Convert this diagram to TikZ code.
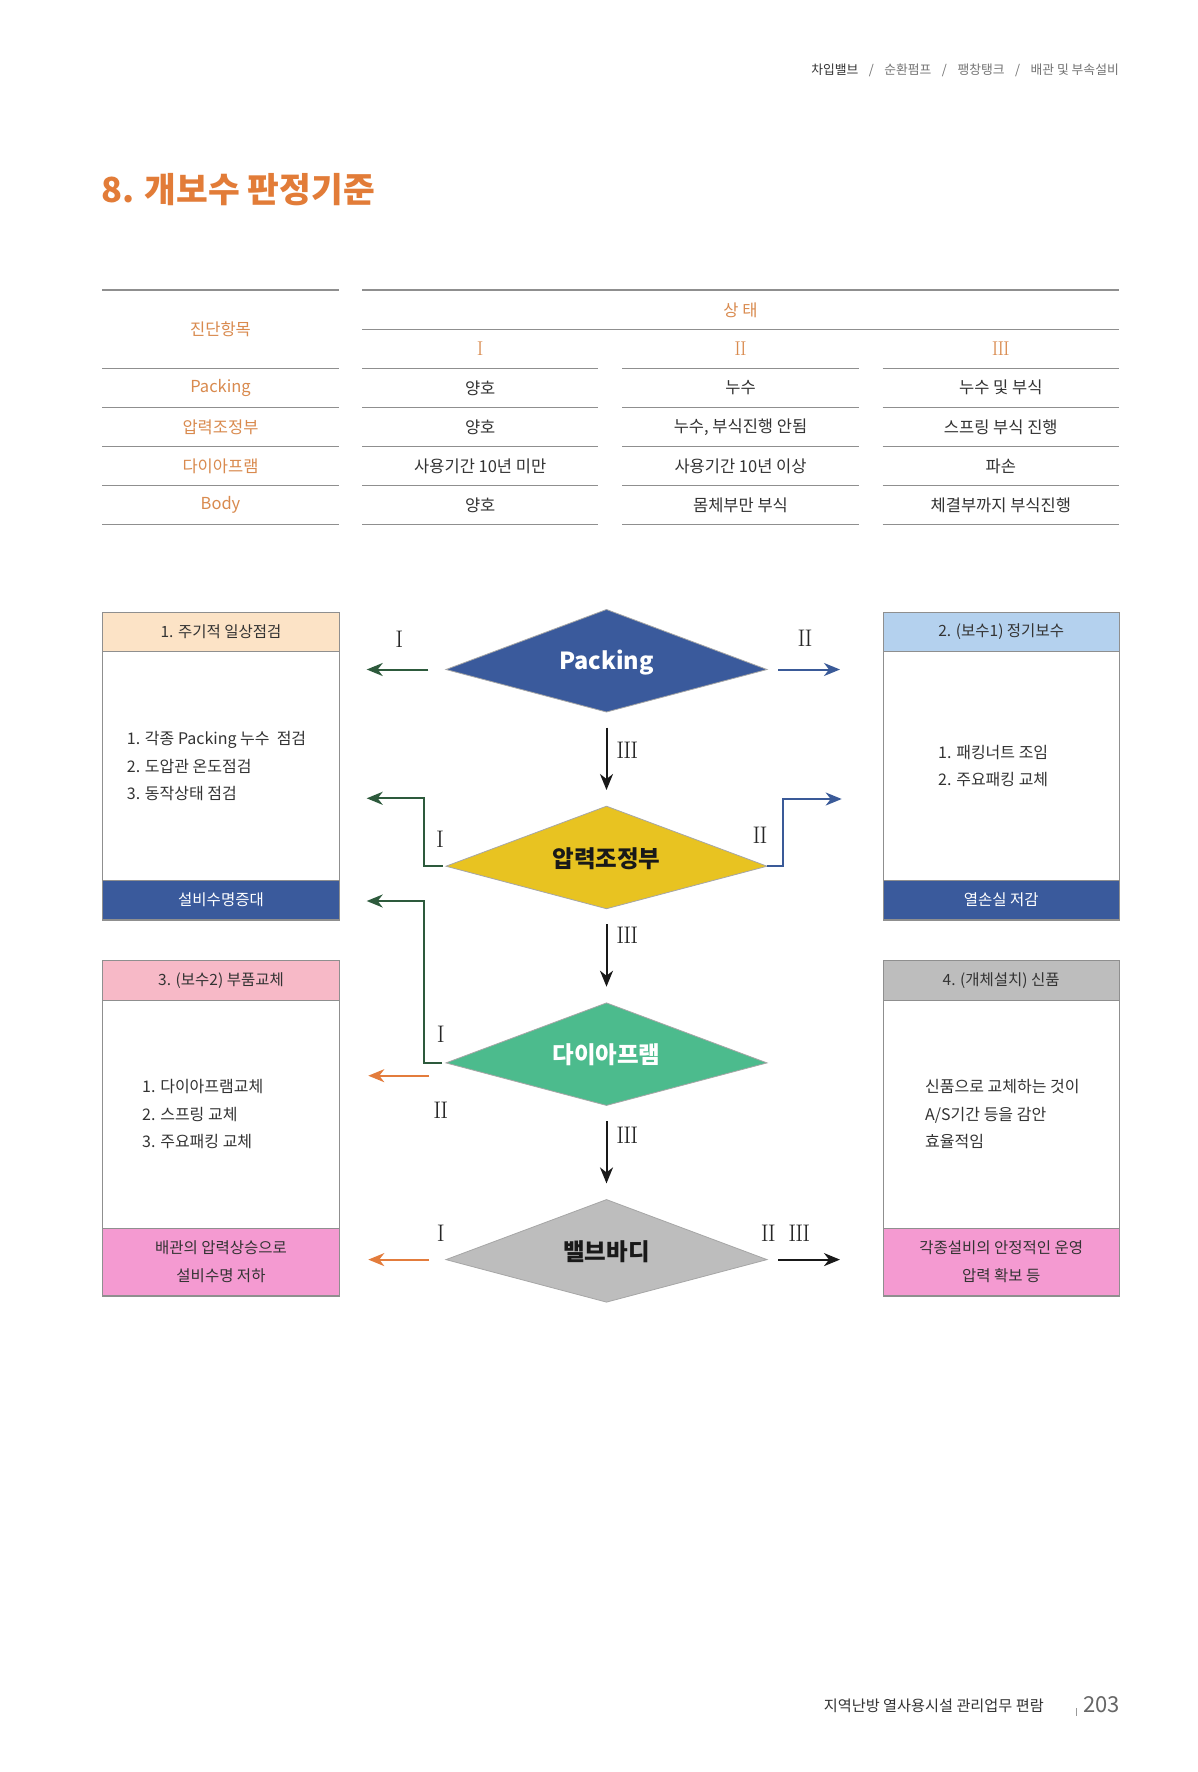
\documentclass[tikz,border=0pt]{standalone}
\usepackage{fontspec}
\usetikzlibrary{arrows.meta}
\newfontfamily\kr{Noto Sans CJK KR}
\definecolor{ttl}{HTML}{E27C38}
\definecolor{org}{HTML}{D98A4E}
\definecolor{txt}{HTML}{333333}
\definecolor{rulec}{HTML}{8F8F8F}
\definecolor{peach}{HTML}{FCE3C6}
\definecolor{lblue}{HTML}{B4D1EE}
\definecolor{dblue}{HTML}{3A5A9C}
\definecolor{lpink}{HTML}{F7B9C7}
\definecolor{mpink}{HTML}{F49AD1}
\definecolor{lgray}{HTML}{BDBDBD}
\definecolor{dyellow}{HTML}{E8C321}
\definecolor{dgreen}{HTML}{4CBB8D}
\definecolor{agreen}{HTML}{2D5A3C}
\definecolor{ablue}{HTML}{3A5A98}
\definecolor{aorange}{HTML}{E37C3C}
\newcommand\RnOne{I}
\newcommand\RnTwo{I\kern-0.9pt I}
\newcommand\RnThree{I\kern-0.9pt I\kern-0.9pt I}
\tikzset{
  tbl/.style={font=\kr\fontsize{16.5}{19}\selectfont, text=txt, inner sep=0pt},
  lab/.style={font=\kr\fontsize{16.5}{19}\selectfont, text=org, inner sep=0pt},
  rn/.style={font=\fontsize{24}{24}\selectfont, text=black!85, inner sep=0pt},
  rnt/.style={font=\fontsize{20}{20}\selectfont, text=org, inner sep=0pt},
  hdr/.style={font=\kr\fontsize{15.5}{28}\selectfont, text=txt, inner sep=0pt, align=center},
  lst/.style={font=\kr\fontsize{16}{27.5}\selectfont, text=txt, align=left, anchor=west, inner sep=0pt},
  dtext/.style={font=\kr\bfseries\fontsize{23.5}{26}\selectfont, inner sep=0pt},
  boxline/.style={draw=rulec, line width=0.9pt, inner sep=0pt, minimum width=236.5pt},
  dshape/.style={draw=black!35, line width=0.8pt},
  trule/.style={draw=rulec, line width=1.3pt},
  arr/.style={line width=2pt, -{Stealth[length=16pt,width=13pt,inset=5pt]}},
  seg/.style={line width=2pt}
}
\begin{document}
\begin{tikzpicture}[x=1pt,y=-1pt]
\useasboundingbox[fill=white] (0,0) rectangle (1197,1772);

% header and title
\node[anchor=east, font=\kr\fontsize{12.8}{14}\selectfont, text=black!55, inner sep=0pt] (bc) at (1119,70.7)
  {\textcolor{txt}{차입밸브}\hspace{10.5pt}/\hspace{10.5pt}순환펌프\hspace{10.5pt}/\hspace{10.5pt}팽창탱크\hspace{10.5pt}/\hspace{10.5pt}배관 및 부속설비};
\node[anchor=west, font=\kr\bfseries\fontsize{34.5}{40}\selectfont, text=ttl, inner sep=0pt] (title) at (101,190) {8. 개보수 판정기준};

% table rules
\foreach \y in {290,368.3,407.3,446.7,485.7,524.7} \draw[trule] (102.3,\y) -- (338.7,\y);
\draw[trule] (362,290) -- (1119,290);
\draw[trule] (362,329.3) -- (1119,329.3);
\foreach \y in {368.3,407.3,446.7,485.7,524.7} {
  \draw[trule] (362,\y) -- (598.3,\y);
  \draw[trule] (622.3,\y) -- (858.7,\y);
  \draw[trule] (882.7,\y) -- (1119,\y);
}
% table text
\node[lab] (th0) at (220.5,329) {진단항목};
\node[lab] (th1) at (740.5,310) {상 태};
\node[rnt] (tn1) at (480.2,349) {\RnOne};
\node[rnt] (tn2) at (740.5,349) {\RnTwo};
\node[rnt] (tn3) at (1000.8,349) {\RnThree};
\node[lab] (r1) at (220.5,387.8) {Packing};
\node[lab] (r2) at (220.5,427) {압력조정부};
\node[lab] (r3) at (220.5,466.2) {다이아프램};
\node[lab] (r4) at (220.5,505.2) {Body};
\node[tbl] (c11) at (480.2,387.8) {양호};
\node[tbl] (c12) at (740.5,387.8) {누수};
\node[tbl] (c13) at (1000.8,387.8) {누수 및 부식};
\node[tbl] (c21) at (480.2,427) {양호};
\node[tbl] (c22) at (740.5,427) {누수, 부식진행 안됨};
\node[tbl] (c23) at (1000.8,427) {스프링 부식 진행};
\node[tbl] (c31) at (480.2,466.2) {사용기간 10년 미만};
\node[tbl] (c32) at (740.5,466.2) {사용기간 10년 이상};
\node[tbl] (c33) at (1000.8,466.2) {파손};
\node[tbl] (c41) at (480.2,505.2) {양호};
\node[tbl] (c42) at (740.5,505.2) {몸체부만 부식};
\node[tbl] (c43) at (1000.8,505.2) {체결부까지 부식진행};

% boxes
\node[boxline, minimum height=308.3pt, anchor=north west] (b1) at (102.3,611.7) {};
\node[boxline, fill=peach, minimum height=39.6pt, anchor=north west, hdr] (b1h) at (102.3,611.7) {1. 주기적 일상점검};
\node[boxline, fill=dblue, minimum height=39.3pt, anchor=south west, hdr, text=white] (b1f) at (102.3,920) {설비수명증대};
\node[lst] (b1t) at (126.7,766) {1. 각종 Packing 누수\ \ 점검\\2. 도압관 온도점검\\3. 동작상태 점검};

\node[boxline, minimum height=308.3pt, anchor=north west] (b2) at (882.5,611.7) {};
\node[boxline, fill=lblue, minimum height=39.6pt, anchor=north west, hdr] (b2h) at (882.5,611.7) {2. (보수1) 정기보수};
\node[boxline, fill=dblue, minimum height=39.3pt, anchor=south west, hdr, text=white] (b2f) at (882.5,920) {열손실 저감};
\node[lst] (b2t) at (938,766) {1. 패킹너트 조임\\2. 주요패킹 교체};

\node[boxline, minimum height=336pt, anchor=north west] (b3) at (102.3,960) {};
\node[boxline, fill=lpink, minimum height=39.6pt, anchor=north west, hdr] (b3h) at (102.3,960) {3. (보수2) 부품교체};
\node[boxline, fill=mpink, minimum height=67pt, anchor=south west, hdr] (b3f) at (102.3,1296) {배관의 압력상승으로\\설비수명 저하};
\node[lst] (b3t) at (142,1114) {1. 다이아프램교체\\2. 스프링 교체\\3. 주요패킹 교체};

\node[boxline, minimum height=336pt, anchor=north west] (b4) at (882.5,960) {};
\node[boxline, fill=lgray, minimum height=39.6pt, anchor=north west, hdr] (b4h) at (882.5,960) {4. (개체설치) 신품};
\node[boxline, fill=mpink, minimum height=67pt, anchor=south west, hdr] (b4f) at (882.5,1296) {각종설비의 안정적인 운영\\압력 확보 등};
\node[lst] (b4t) at (925,1114) {신품으로 교체하는 것이\\A/S기간 등을 감안\\효율적임};

% diamonds
\coordinate (pkN) at (606.5,609.5); \coordinate (pkE) at (767,669.5); \coordinate (pkS) at (606.5,712); \coordinate (pkW) at (446,669.5);
\coordinate (prN) at (606.5,806.2); \coordinate (prE) at (767,866.2); \coordinate (prS) at (606.5,908.7); \coordinate (prW) at (446,866.2);
\coordinate (dpN) at (606.5,1002.9); \coordinate (dpE) at (767,1062.9); \coordinate (dpS) at (606.5,1105.4); \coordinate (dpW) at (446,1062.9);
\coordinate (vbN) at (606.5,1199.6); \coordinate (vbE) at (767,1259.6); \coordinate (vbS) at (606.5,1302.1); \coordinate (vbW) at (446,1259.6);
\filldraw[dshape, fill=dblue] (pkN) -- (pkE) -- (pkS) -- (pkW) -- cycle;
\filldraw[dshape, fill=dyellow] (prN) -- (prE) -- (prS) -- (prW) -- cycle;
\filldraw[dshape, fill=dgreen] (dpN) -- (dpE) -- (dpS) -- (dpW) -- cycle;
\filldraw[dshape, fill=lgray] (vbN) -- (vbE) -- (vbS) -- (vbW) -- cycle;
\node[dtext, text=white] (pk) at (606.5,662.5) {Packing};
\node[dtext, text=black!90] (pr) at (606.5,858.5) {압력조정부};
\node[dtext, text=white] (dp) at (606.5,1055) {다이아프램};
\node[dtext, text=black!90] (vb) at (606.5,1251.5) {밸브바디};

% connector end points
\coordinate (jL) at (424.3,0); \coordinate (jR) at (782.7,0);
\coordinate (aL1) at (366.7,669.5);
\coordinate (aR1) at (840,669.5);
\coordinate (aL2) at (366.7,798.3);
\coordinate (aR2) at (841.7,799);
\coordinate (aL3) at (366.7,901);
\coordinate (oT) at (429,1075.7);
\coordinate (aL4) at (368.3,1075.7);
\coordinate (aL5) at (368.3,1259.6);
\coordinate (aR5) at (840,1259.6);

% connectors
\draw[arr, agreen, shorten <=17.7pt] (pkW) -- (aL1);
\draw[arr, ablue, shorten <=11.3pt] (pkE) -- (aR1);
\draw[arr, black!90, shorten <=15.7pt, shorten >=16.2pt] (pkS) -- (prN);
\draw[arr, agreen, shorten <=3pt] (prW) -- (prW -| jL) -- (jL |- aL2) -- (aL2);
\draw[arr, ablue, shorten <=0pt] (prE) -- (prE -| jR) -- (jR |- aR2) -- (aR2);
\draw[arr, black!90, shorten <=15.7pt, shorten >=16.2pt] (prS) -- (dpN);
\draw[arr, agreen, shorten <=4pt] (dpW) -- (dpW -| jL) -- (jL |- aL3) -- (aL3);
\draw[arr, aorange] (oT) -- (aL4);
\draw[arr, black!90, shorten <=15.7pt, shorten >=16.2pt] (dpS) -- (vbN);
\draw[arr, aorange, shorten <=17pt] (vbW) -- (aL5);
\draw[arr, black!90, shorten <=11.3pt] (vbE) -- (aR5);

% connector labels
\node[rn] (l1) at (399.3,639.3) {\RnOne};
\node[rn] (l2) at (805,638) {\RnTwo};
\node[rn] (l3) at (627.3,750) {\RnThree};
\node[rn] (l4) at (440,839.3) {\RnOne};
\node[rn] (l5) at (760,835) {\RnTwo};
\node[rn] (l6) at (627.3,935) {\RnThree};
\node[rn] (l7) at (440.7,1034) {\RnOne};
\node[rn] (l8) at (440.7,1110.7) {\RnTwo};
\node[rn] (l9) at (627.3,1135) {\RnThree};
\node[rn] (l10) at (440.7,1233.3) {\RnOne};
\node[rn] (l11) at (768.3,1233.3) {\RnTwo};
\node[rn] (l12) at (799.3,1233.3) {\RnThree};

% footer
\node[anchor=east, font=\kr\fontsize{15.2}{17}\selectfont, text=txt, inner sep=0pt] (ft) at (1044,1706) {지역난방 열사용시설 관리업무 편람};
\draw[black!40, line width=0.8pt] (1076.7,1708) -- (1076.7,1716);
\node[anchor=west, font=\kr\fontsize{22}{24}\selectfont, text=black!60, inner sep=0pt] (pg) at (1083,1705) {203};
\end{tikzpicture}
\end{document}
